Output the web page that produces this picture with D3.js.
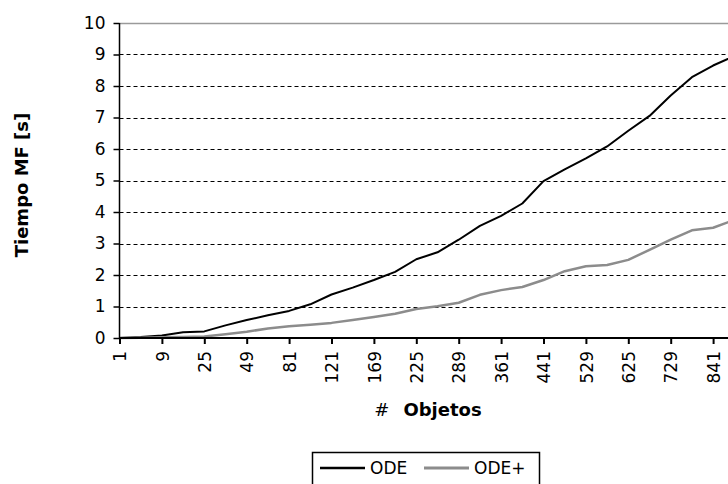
<!DOCTYPE html>
<html>
<head>
<meta charset="utf-8">
<script src="https://cdn.jsdelivr.net/npm/d3@7"></script>
<style>
  body { margin: 0; background: #fff; }
  svg { display: block; font-family: "DejaVu Sans", sans-serif; }
</style>
</head>
<body>
<div id="chart"></div>
<script>
// categories: number of objects (n^2)
const objetos = [1, 4, 9, 16, 25, 36, 49, 64, 81, 100, 121, 144, 169, 196, 225, 256,
  289, 324, 361, 400, 441, 484, 529, 576, 625, 676, 729, 784, 841, 900]
// time in seconds
const ode = [0, 0.03, 0.08, 0.18, 0.21, 0.4, 0.57, 0.72, 0.86, 1.07, 1.38, 1.6, 1.84, 2.1,
  2.5, 2.72, 3.12, 3.56, 3.88, 4.27, 4.98, 5.35, 5.7, 6.08, 6.58, 7.05, 7.7, 8.28, 8.65, 8.95]
const odePlus = [0, 0.01, 0.02, 0.03, 0.05, 0.12, 0.2, 0.3, 0.37, 0.42, 0.48, 0.57, 0.67, 0.77,
  0.92, 1.01, 1.12, 1.37, 1.52, 1.62, 1.84, 2.12, 2.28, 2.32, 2.48, 2.8, 3.12, 3.42, 3.5, 3.75]
const xTicks = [1, 9, 25, 49, 81, 121, 169, 225, 289, 361, 441, 529, 625, 729, 841]
const yTicks = [0, 1, 2, 3, 4, 5, 6, 7, 8, 9, 10]

const series = [
  { name: "ODE", values: ode, color: "#000000", width: 2 },
  { name: "ODE+", values: odePlus, color: "#8c8c8c", width: 2.5 }
]

const svgWidth = 728, svgHeight = 484
const plotLeft = 119.5, plotTop = 23, plotBottom = 338
const step = 21.2

let svg = d3.select("#chart").append("svg")
  .attr("width", svgWidth)
  .attr("height", svgHeight)

let x = d3.scalePoint()
  .domain(objetos)
  .range([plotLeft, plotLeft + step * (objetos.length - 1)])

let y = d3.scaleLinear()
  .domain([0, 10])
  .range([plotBottom, plotTop])

const plotRight = x(objetos[objetos.length - 1])

// gridlines (dashed), top one is the solid grey plot border
svg.append("g")
  .selectAll("line")
  .data(yTicks.filter(d => d > 0))
  .enter().append("line")
  .attr("x1", plotLeft)
  .attr("x2", plotRight)
  .attr("y1", d => Math.round(y(d)) + 0.5)
  .attr("y2", d => Math.round(y(d)) + 0.5)
  .attr("stroke", d => d === 10 ? "#9a9a9a" : "#000")
  .attr("stroke-width", d => d === 10 ? 1.5 : 1)
  .attr("stroke-dasharray", d => d === 10 ? null : "4,3")

// lines
let line = d3.line()
  .x((d, i) => x(objetos[i]))
  .y(d => y(d))

svg.selectAll(".serie")
  .data(series)
  .enter().append("path")
  .attr("class", "serie")
  .attr("fill", "none")
  .attr("stroke", d => d.color)
  .attr("stroke-width", d => d.width)
  .attr("stroke-linejoin", "round")
  .attr("d", d => line(d.values))

// y axis
let yAxis = svg.append("g")
  .attr("transform", `translate(${plotLeft},0)`)
  .call(d3.axisLeft(y).tickValues(yTicks).tickSize(6).tickPadding(8).tickFormat(d3.format("d")))
yAxis.select(".domain").attr("stroke", "#000").attr("stroke-width", 1.5).attr("d", `M0,${plotTop}V${plotBottom}`)
yAxis.selectAll(".tick line").attr("stroke", "#000").attr("stroke-width", 1.5)
yAxis.selectAll(".tick text")
  .attr("font-size", 17)
  .attr("font-family", "DejaVu Sans, sans-serif")
  .attr("fill", "#000")
  .attr("x", -14)

// x axis
let xAxis = svg.append("g")
  .attr("transform", `translate(0,${plotBottom})`)
  .call(d3.axisBottom(x).tickValues(xTicks).tickSize(6).tickPadding(8))
xAxis.select(".domain").attr("stroke", "#000").attr("stroke-width", 2).attr("d", `M${plotLeft},0H${plotRight}`)
xAxis.selectAll(".tick line").attr("stroke", "#000").attr("stroke-width", 2)
xAxis.selectAll(".tick text")
  .attr("font-size", 17)
  .attr("font-family", "DejaVu Sans, sans-serif")
  .attr("fill", "#000")
  .attr("transform", "rotate(-90)")
  .attr("text-anchor", "end")
  .attr("dy", "0.36em")
  .attr("x", -13)
  .attr("y", 0)

// axis titles
svg.append("text")
  .attr("x", 428)
  .attr("y", 416)
  .attr("text-anchor", "middle")
  .attr("font-size", 18)
  .html('<tspan>#</tspan><tspan dx="14" font-weight="bold">Objetos</tspan>')

svg.append("text")
  .attr("transform", "translate(28,185) rotate(-90)")
  .attr("text-anchor", "middle")
  .attr("font-size", 18)
  .attr("font-weight", "bold")
  .text("Tiempo MF [s]")

// legend
let legend = svg.append("g")
legend.append("rect")
  .attr("x", 312.5)
  .attr("y", 452.5)
  .attr("width", 227)
  .attr("height", 40)
  .attr("fill", "#fff")
  .attr("stroke", "#000")
  .attr("stroke-width", 1.5)

const legendX = [320, 424]
series.forEach((s, i) => {
  legend.append("line")
    .attr("x1", legendX[i])
    .attr("x2", legendX[i] + 45)
    .attr("y1", 468)
    .attr("y2", 468)
    .attr("stroke", s.color)
    .attr("stroke-width", s.width + 0.5)
  legend.append("text")
    .attr("x", legendX[i] + 50)
    .attr("y", 474)
    .attr("font-size", 17)
    .text(s.name)
})
</script>
</body>
</html>
